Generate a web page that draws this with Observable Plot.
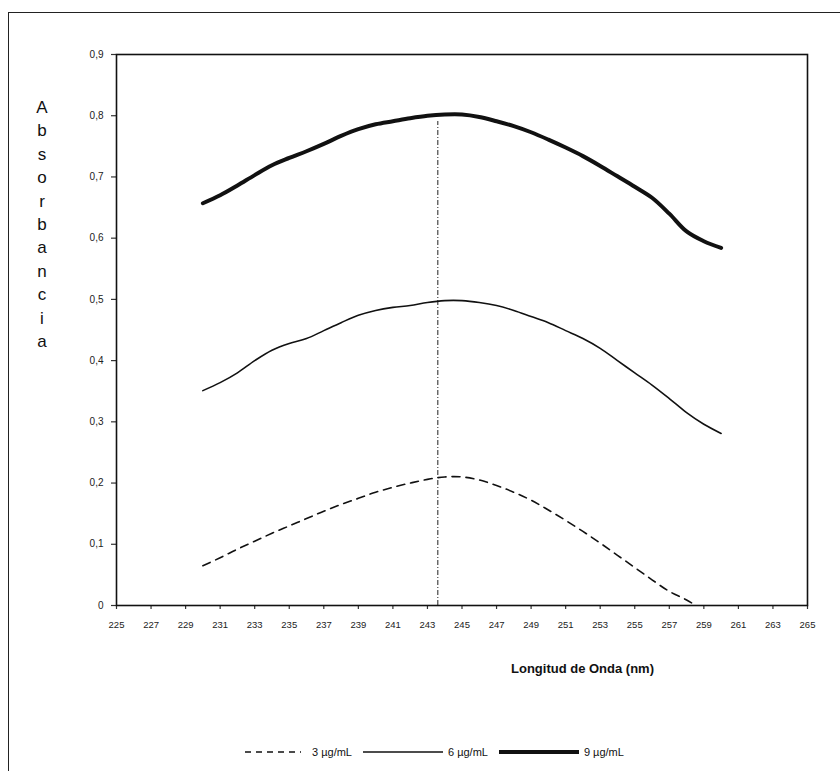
<!DOCTYPE html>
<html>
<head>
<meta charset="utf-8">
<script src="https://cdn.jsdelivr.net/npm/d3@7"></script>
<script src="https://cdn.jsdelivr.net/npm/@observablehq/plot@0.6"></script>
<style>
  html, body { margin: 0; padding: 0; background: #fff; }
  #wrap { position: relative; width: 840px; height: 771px; overflow: hidden; font-family: Arial, "Liberation Sans", sans-serif; }
  #border { position: absolute; left: 8px; top: 12px; width: 840px; height: 800px; border-left: 1.5px solid #222; border-top: 1.5px solid #222; box-sizing: border-box; }
  #chart { position: absolute; left: 0; top: 0; }
  #ylab { position: absolute; left: 30px; top: 96px; width: 24px; text-align: center; font-size: 17px; line-height: 23.4px; color: #111; }
  #xlab { position: absolute; left: 511px; top: 661px; font-size: 13px; font-weight: bold; color: #111; }
  #legend { position: absolute; left: 243px; top: 746px; font-size: 11px; color: #111; }
</style>
</head>
<body>
<div id="wrap">
  <div id="border"></div>
  <div id="chart"></div>
  <div id="ylab"></div>
  <div id="xlab"></div>
  <div id="legend"></div>
</div>
<script>
const wavelengths = [230,231,232,233,234,235,236,237,238,239,240,241,242,243,244,245,246,247,248,249,250,251,252,253,254,255,256,257,258,259,260];
const abs9 = [0.657,0.670,0.686,0.703,0.719,0.731,0.742,0.754,0.767,0.778,0.786,0.791,0.796,0.800,0.802,0.802,0.798,0.791,0.783,0.773,0.761,0.748,0.734,0.718,0.701,0.684,0.666,0.640,0.611,0.595,0.584];
const abs6 = [0.351,0.364,0.380,0.400,0.417,0.428,0.436,0.449,0.462,0.474,0.482,0.487,0.490,0.495,0.498,0.498,0.495,0.490,0.482,0.472,0.462,0.449,0.436,0.420,0.400,0.380,0.360,0.338,0.315,0.296,0.281];
const wavelengths3 = [230,231,232,233,234,235,236,237,238,239,240,241,242,243,244,245,246,247,248,249,250,251,252,253,254,255,256,257,258,259];
const abs3 = [0.065,0.078,0.092,0.105,0.118,0.130,0.142,0.154,0.165,0.175,0.185,0.193,0.200,0.206,0.210,0.210,0.205,0.196,0.185,0.172,0.156,0.139,0.121,0.102,0.082,0.062,0.042,0.023,0.009,-0.008];
const seriesNames = ["3 µg/mL", "6 µg/mL", "9 µg/mL"];
const lambdaMax = 243.6;
const peakAbs = 0.802;
const xTicks = d3.range(225, 266, 2);
const yTicks = [0,0.1,0.2,0.3,0.4,0.5,0.6,0.7,0.8,0.9];
const yTitle = "Absorbancia";
const xTitle = "Longitud de Onda (nm)";

const d9 = wavelengths.map((x, i) => ({x, y: abs9[i]}));
const d6 = wavelengths.map((x, i) => ({x, y: abs6[i]}));
const d3s = wavelengths3.map((x, i) => ({x, y: abs3[i]}));

const fmt = d => d === 0 ? "0" : d.toFixed(1).replace(".", ",");

const plot = Plot.plot({
  width: 840,
  height: 771,
  marginLeft: 116,
  marginRight: 33,
  marginTop: 54,
  marginBottom: 166,
  style: {fontFamily: "Arial, 'Liberation Sans', sans-serif", fontSize: "10px", color: "#222", background: "transparent"},
  x: {domain: [225, 265], ticks: xTicks, label: null},
  y: {domain: [0, 0.9], ticks: yTicks, label: null},
  marks: [
    Plot.axisY({ticks: yTicks, tickSize: 5, tickPadding: 8, tickFormat: fmt, fontSize: 10, stroke: "#333", strokeWidth: 1.2}),
    Plot.axisX({ticks: xTicks, tickSize: 4, tickPadding: 12, tickFormat: d => String(d), fontSize: 9.5, stroke: "#333", strokeWidth: 1.2}),
    Plot.ruleX([lambdaMax], {y1: 0, y2: peakAbs, stroke: "#222", strokeWidth: 1, strokeDasharray: "5,2,1,2", insetBottom: -7}),
    Plot.line(d3s, {x: "x", y: "y", curve: "catmull-rom", stroke: "#111", strokeWidth: 1.6, strokeDasharray: "8,6", clip: true}),
    Plot.line(d6, {x: "x", y: "y", curve: "catmull-rom", stroke: "#111", strokeWidth: 1.6}),
    Plot.line(d9, {x: "x", y: "y", curve: "catmull-rom", stroke: "#111", strokeWidth: 4}),
    Plot.frame({stroke: "#111", strokeWidth: 1.6})
  ]
});
document.getElementById("chart").appendChild(plot);

document.getElementById("ylab").innerHTML = yTitle.split("").map(c => `<div>${c}</div>`).join("");
document.getElementById("xlab").textContent = xTitle;

const legendStyles = [
  {w: 1.6, dash: "6,5", len: 56},
  {w: 1.6, dash: null, len: 80},
  {w: 4, dash: null, len: 80}
];
const leg = document.getElementById("legend");
leg.innerHTML = seriesNames.map((name, i) => {
  const s = legendStyles[i];
  const gap = i === 0 ? 9 : 3;
  return `<span style="display:inline-flex;align-items:center;margin-right:9px;">
    <svg width="${s.len + 4}" height="10" style="margin-right:${gap}px"><line x1="2" y1="5" x2="${s.len + 2}" y2="5" stroke="#111" stroke-width="${s.w}" ${s.dash ? `stroke-dasharray="${s.dash}"` : ""}/></svg>${name}</span>`;
}).join("");
</script>
</body>
</html>
